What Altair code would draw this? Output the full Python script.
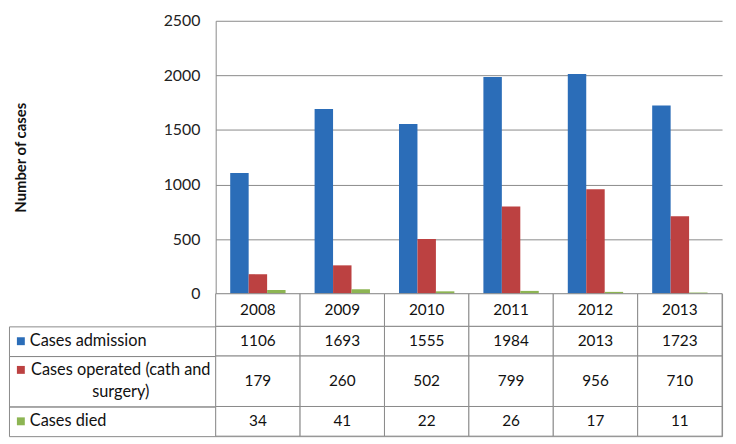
import altair as alt
import pandas as pd

years = ["2008", "2009", "2010", "2011", "2012", "2013"]
series = ["Cases admission", "Cases operated (cath and surgery)", "Cases died"]
admission = [1106, 1693, 1555, 1984, 2013, 1723]
operated = [179, 260, 502, 799, 956, 710]
died = [34, 41, 22, 26, 17, 11]
colors = ["#2B6DB8", "#BC4141", "#8DB553"]
y_ticks = [0, 500, 1000, 1500, 2000, 2500]

values = [admission, operated, died]
rows = []
for s, vals in zip(series, values):
    for y, v in zip(years, vals):
        rows.append({"year": y, "series": s, "value": v})
df = pd.DataFrame(rows)

FONT = "Lato"
GRID = "#8a8a8a"
LEFT_W = 209
PLOT_W = 512
PLOT_H = 276
ROW_H = [33, 30, 51, 30]
NOSTROKE = alt.ViewBackground(stroke="transparent")
BORDER = alt.ViewBackground(stroke=GRID, strokeWidth=1)

color_scale = alt.Scale(domain=series, range=colors)

# Bars
bars = alt.Chart(df).mark_bar().encode(
    x=alt.X("year:N", sort=years, axis=None,
            scale=alt.Scale(paddingInner=0.344, paddingOuter=0.172)),
    xOffset=alt.XOffset("series:N", sort=series),
    y=alt.Y("value:Q", scale=alt.Scale(domain=[0, 2500]),
            axis=alt.Axis(values=y_ticks, title="Number of cases", ticks=False,
                          format="d",
                          grid=True, gridColor=GRID, domainColor=GRID,
                          labelFont=FONT, labelFontSize=16, labelColor="#222",
                          labelPadding=16, titleFont=FONT, titleFontSize=15,
                          titleFontWeight="bold", titleColor="#111",
                          titleX=-189)),
    color=alt.Color("series:N", scale=color_scale, legend=None),
).properties(width=PLOT_W, height=PLOT_H, view=NOSTROKE)

dummy = pd.DataFrame({"a": [0]})


def blank(h):
    return alt.Chart(dummy).mark_point(opacity=0).properties(
        width=LEFT_W, height=h, view=NOSTROKE)


spacer = blank(PLOT_H)
corner = blank(ROW_H[0])

# Header row with years
ydf = pd.DataFrame({"year": years})
xcell = alt.X("year:N", sort=years, axis=None,
              scale=alt.Scale(paddingInner=0, paddingOuter=0))
header = alt.layer(
    alt.Chart(ydf).mark_rect(fill="white", stroke=GRID, strokeWidth=1).encode(x=xcell),
    alt.Chart(ydf).mark_text(font=FONT, fontSize=15.5, color="#111").encode(
        x=xcell, text="year:N"),
).properties(width=PLOT_W, height=ROW_H[0], view=BORDER)

charts = [spacer, bars, corner, header]

for i, s in enumerate(series):
    h = ROW_H[i + 1]
    sdf = df[df["series"] == s]
    vals = alt.layer(
        alt.Chart(sdf).mark_rect(fill="white", stroke=GRID, strokeWidth=1).encode(x=xcell),
        alt.Chart(sdf).mark_text(font=FONT, fontSize=15.5, color="#111").encode(
            x=xcell, text="value:Q"),
    ).properties(width=PLOT_W, height=h, view=BORDER)

    ldf = pd.DataFrame({"series": [s], "label": [s]})
    square = alt.Chart(ldf).mark_square(size=64, opacity=1).encode(
        x=alt.value(12),
        y=alt.value(h / 2 if i != 1 else 14),
        color=alt.Color("series:N", scale=color_scale, legend=None),
    )
    if i == 1:
        label = alt.Chart(pd.DataFrame({"label": ["Cases operated (cath and\nsurgery)"]})).mark_text(
            font=FONT, fontSize=16.5, color="#111", align="center", lineBreak="\n",
            lineHeight=22, baseline="middle").encode(
            x=alt.value(113), y=alt.value(14), text="label:N")
    else:
        label = alt.Chart(ldf).mark_text(
            font=FONT, fontSize=16.5, color="#111", align="left").encode(
            x=alt.value(21), text="label:N")
    lab = alt.layer(square, label).properties(width=LEFT_W, height=h, view=BORDER)
    charts += [lab, vals]

chart = alt.concat(*charts, columns=2, spacing=0, bounds="flush").properties(
    padding={"top": 1.5, "left": 0, "right": 5, "bottom": 3}
).configure_view(stroke=GRID).configure(background="white")

chart.save("out.html", embed_options={"renderer": "svg", "actions": False})
